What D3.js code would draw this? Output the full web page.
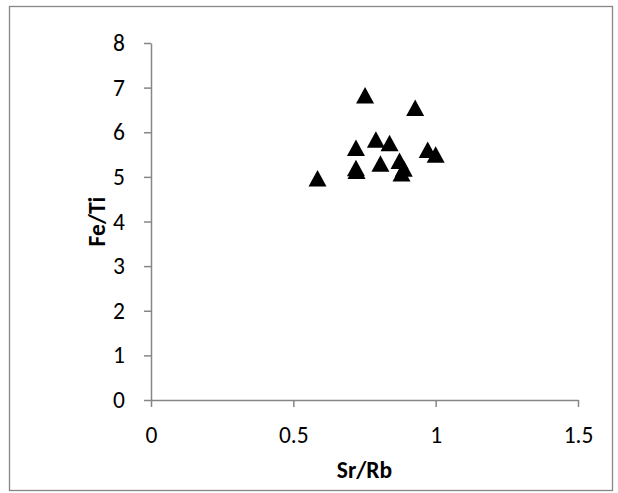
<!DOCTYPE html>
<html>
<head>
<meta charset="utf-8">
<script src="https://cdn.jsdelivr.net/npm/d3@7"></script>
<style>
  html, body { margin: 0; padding: 0; background: #fff; }
  svg { display: block; }
  text { font-family: Carlito, Lato, "Liberation Sans", sans-serif; fill: #000; }
</style>
</head>
<body>
<svg id="chart" width="618" height="493"></svg>
<script>
// Sample ratios: Sr/Rb (x) against Fe/Ti (y)
const srRb = [0.585, 0.720, 0.720, 0.722, 0.752, 0.790, 0.838, 0.806, 0.873, 0.888, 0.880, 0.928, 0.972, 1.000];
const feTi = [4.97, 5.65, 5.20, 5.14, 6.83, 5.84, 5.76, 5.30, 5.36, 5.19, 5.08, 6.55, 5.61, 5.50];
const xTicks = [0, 0.5, 1, 1.5];
const yTicks = [0, 1, 2, 3, 4, 5, 6, 7, 8];
const xTitle = "Sr/Rb";
const yTitle = "Fe/Ti";

const svg = d3.select("#chart");
const axisColor = "#868686";
const fontFamily = "Carlito, Lato, 'Liberation Sans', sans-serif";

// outer chart frame
svg.append("rect")
  .attr("x", 9.5).attr("y", 6.5)
  .attr("width", 603).attr("height", 484)
  .attr("fill", "none").attr("stroke", axisColor).attr("stroke-width", 1.3);

const x = d3.scaleLinear().domain([0, 1.5]).range([151, 578]);
const y = d3.scaleLinear().domain([0, 8]).range([400, 43]);

const xAxis = svg.append("g")
  .attr("transform", `translate(0,${y(0)})`)
  .call(d3.axisBottom(x).tickValues(xTicks).tickFormat(d3.format("")).tickSize(7).tickSizeOuter(0).tickPadding(19));
const yAxis = svg.append("g")
  .attr("transform", `translate(${x(0)},0)`)
  .call(d3.axisLeft(y).tickValues(yTicks).tickFormat(d3.format("d")).tickSize(7).tickSizeOuter(0).tickPadding(19));

[xAxis, yAxis].forEach(g => {
  g.select(".domain").attr("stroke", axisColor).attr("stroke-width", 1.5);
  g.selectAll(".tick line").attr("stroke", axisColor).attr("stroke-width", 1.5);
  g.selectAll(".tick text").attr("font-size", 23.5)
    .attr("font-family", fontFamily).attr("fill", "#000");
});

// axis titles
svg.append("text")
  .attr("x", x(0.75)).attr("y", 478)
  .attr("text-anchor", "middle")
  .attr("font-size", 23.5).attr("font-weight", "bold")
  .text(xTitle);
svg.append("text")
  .attr("transform", `translate(105,${y(4)}) rotate(-90)`)
  .attr("text-anchor", "middle")
  .attr("font-size", 23.5).attr("font-weight", "bold")
  .text(yTitle);

// triangle markers
const w = 18, h = 16.5;
const tri = `M0,${-h/2}L${w/2},${h/2}L${-w/2},${h/2}Z`;
svg.append("g").selectAll("path")
  .data(d3.zip(srRb, feTi))
  .join("path")
  .attr("d", tri)
  .attr("transform", d => `translate(${x(d[0])},${y(d[1])})`)
  .attr("fill", "#000");
</script>
</body>
</html>
